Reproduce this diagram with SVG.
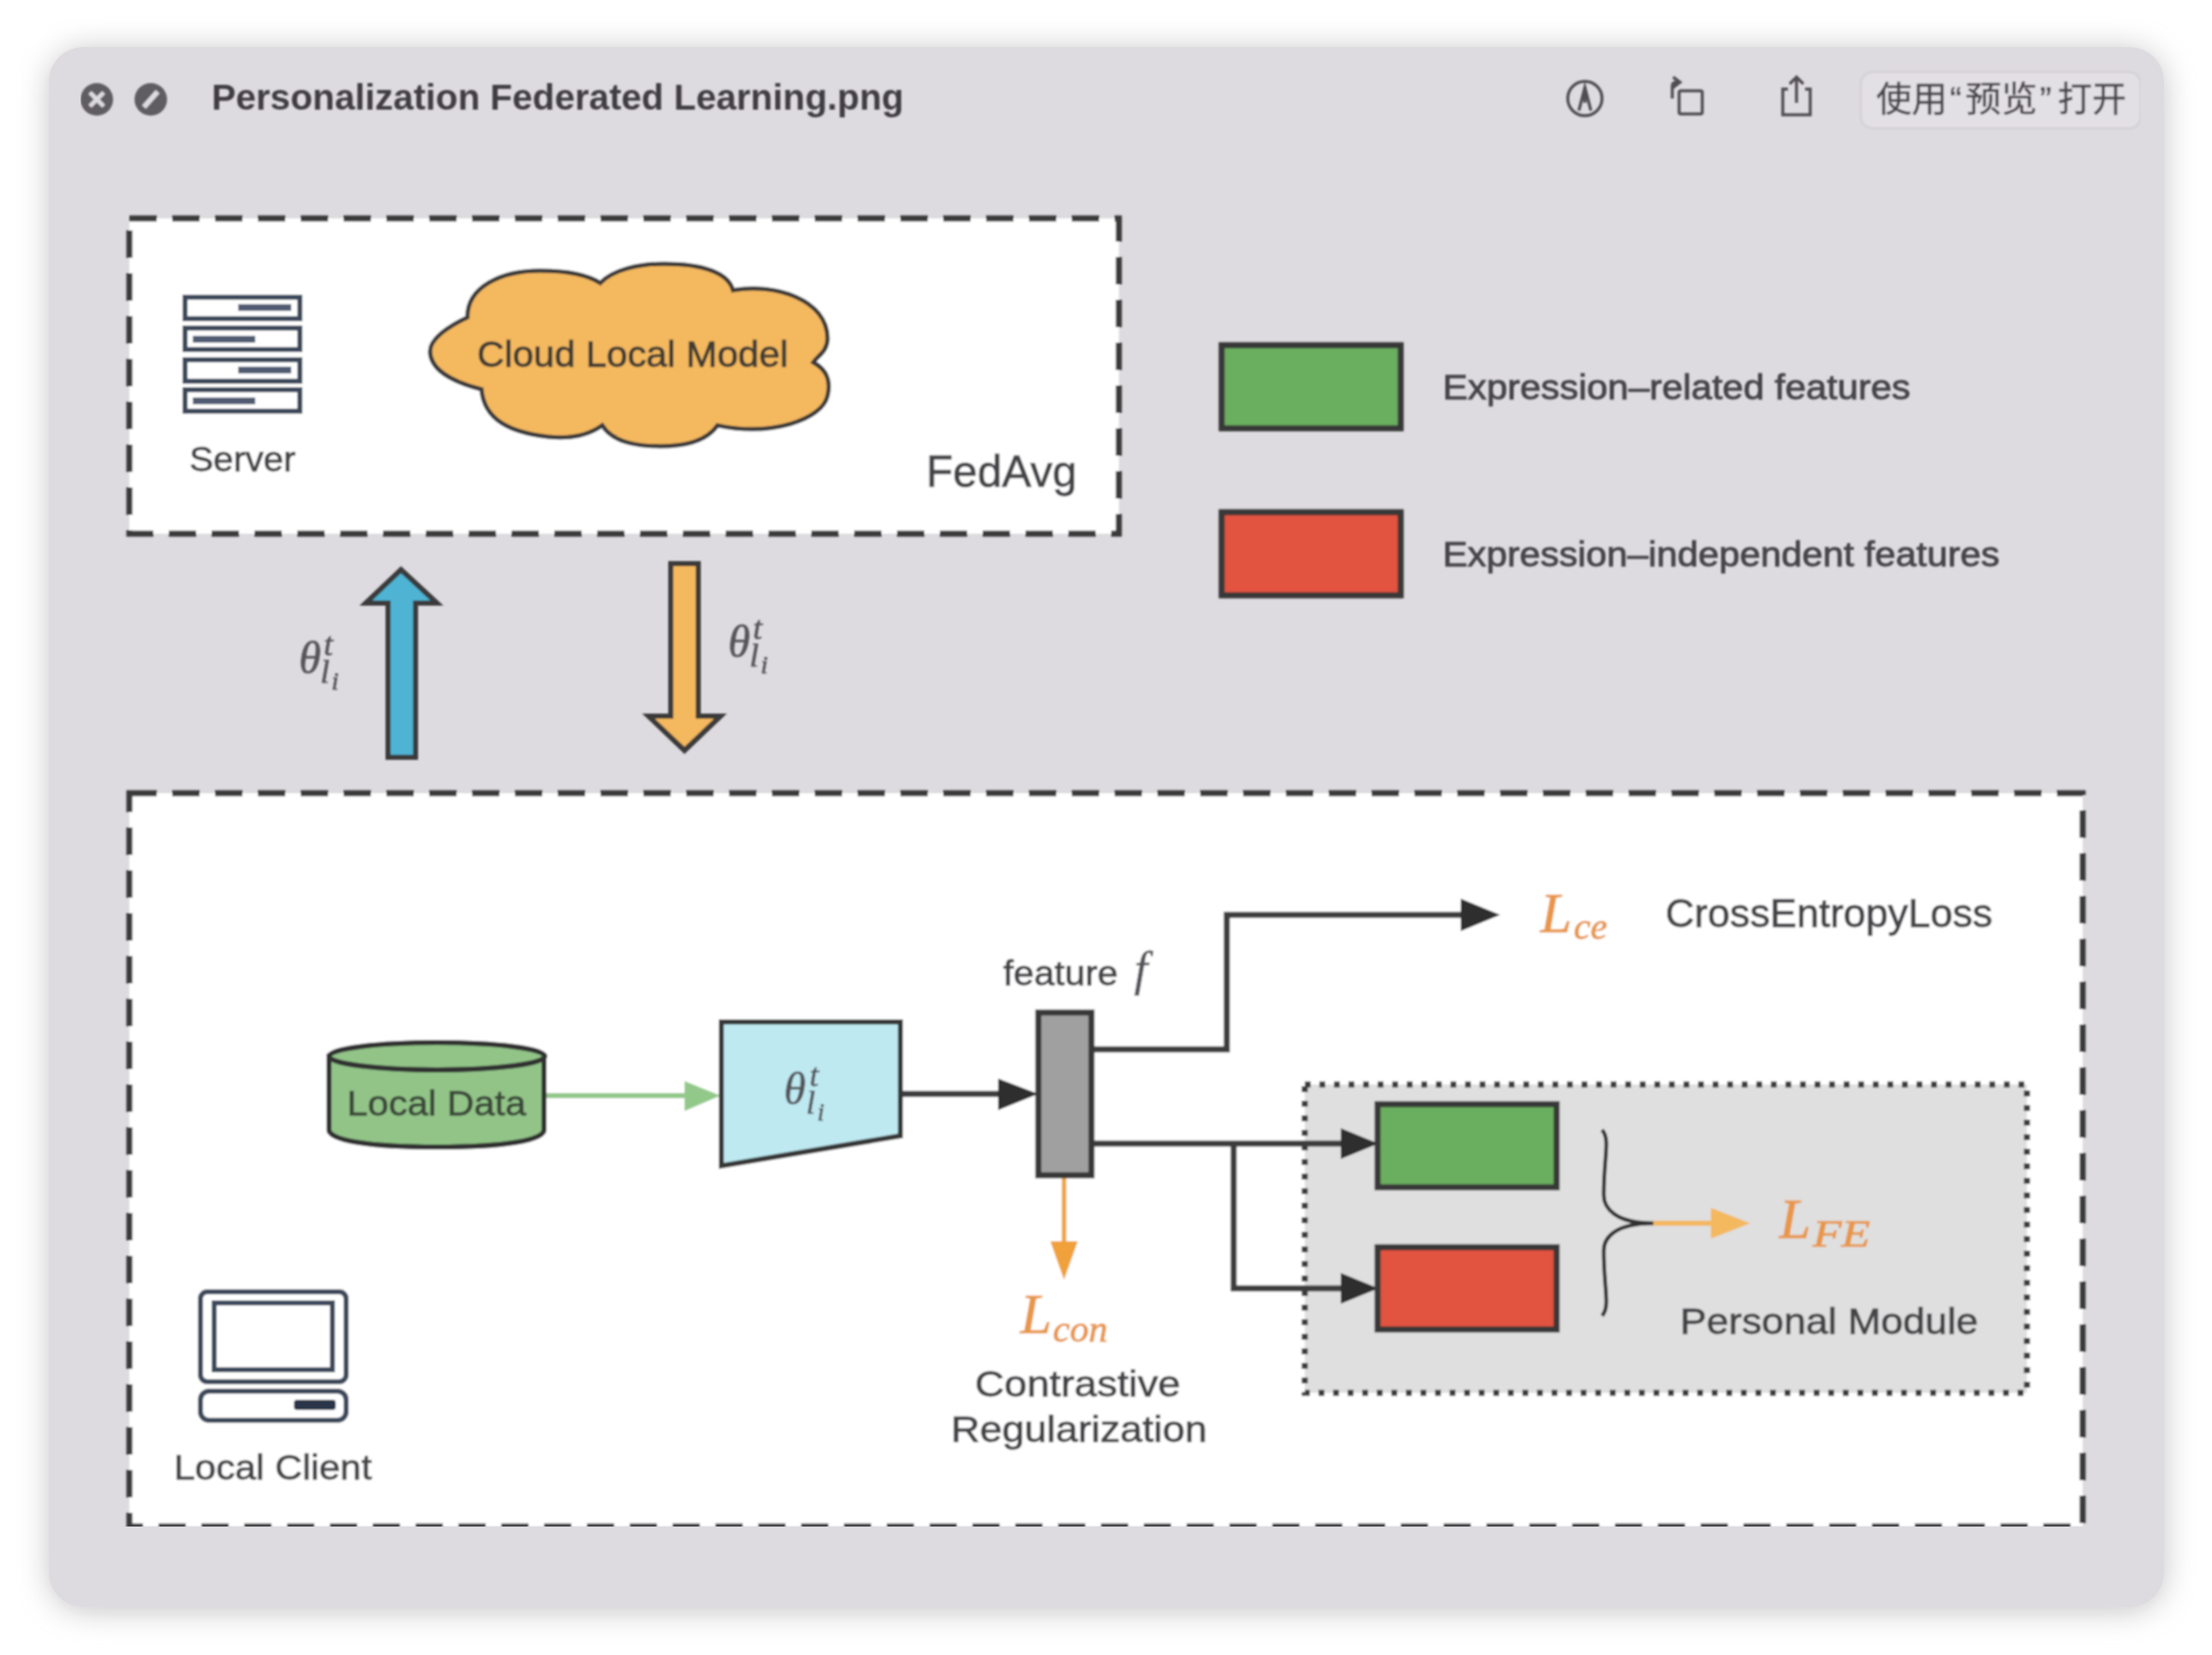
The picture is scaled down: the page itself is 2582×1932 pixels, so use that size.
<svg xmlns="http://www.w3.org/2000/svg" width="2582" height="1932" viewBox="0 0 2582 1932">
<style>
text{font-family:"Liberation Sans",Arial,"Noto Sans CJK SC",sans-serif;color:#454548;fill:currentColor;stroke:currentColor;stroke-width:.9}
.m{font-family:"Liberation Serif","Times New Roman",serif;font-style:italic;color:#55555a;stroke-width:.7;font-size:52px}
.s{font-size:38px}
.ss{font-size:30px}
.o{font-family:"Liberation Serif","Times New Roman",serif;font-style:italic;color:#e8964a;stroke-width:.9}
.dash{fill:#fff;stroke:#3a3a3a;stroke-width:7;stroke-dasharray:32 18}
.box{stroke:#383838;stroke-width:7}
.line{fill:none;stroke:#3c3c3c;stroke-width:7}
.ic{fill:#fff;stroke:#3d4a5c;stroke-width:6}
.bar{fill:#33405a}
.tb{fill:none;stroke:#504d52;stroke-width:3.5}
</style>
<defs>
<filter id="sh" x="-10%" y="-10%" width="120%" height="120%"><feGaussianBlur stdDeviation="18"/></filter>
<filter id="soft" x="0" y="0" width="100%" height="100%"><feGaussianBlur stdDeviation="1.1"/></filter>
</defs>
<rect width="2582" height="1932" fill="#fff"/>
<rect x="58" y="58" width="2468" height="1822" rx="42" fill="#8a8a8a" opacity=".5" filter="url(#sh)"/>
<rect id="window" x="57" y="55" width="2469" height="1821" rx="40" fill="#dedbe0"/>
<g filter="url(#soft)">
<g id="titlebar">
<circle cx="113" cy="116" r="19" fill="#5f5b62"/>
<path d="M105,108 L121,124 M121,108 L105,124" stroke="#dedbe0" stroke-width="5" fill="none"/>
<circle cx="176" cy="116" r="19" fill="#5f5b62"/>
<path d="M168,125 L184,107" stroke="#dedbe0" stroke-width="6" fill="none"/>
<text x="247" y="128" font-size="42" font-weight="700" textLength="808" lengthAdjust="spacingAndGlyphs" style="color:#403d43;stroke-width:0">Personalization Federated Learning.png</text>
<circle class="tb" cx="1850" cy="115" r="20"/>
<path class="tb" d="M1843,129 L1850,102 L1857,129 M1850,102 L1850,120"/>
<rect class="tb" x="1960" y="106" width="27" height="27" rx="2"/>
<path class="tb" d="M1952,115 L1952,100 Q1952,96 1958,96 M1953,90 L1961,96 L1953,102"/>
<path class="tb" d="M2087,104 L2081,104 L2081,134 L2113,134 L2113,104 L2107,104 M2097,120 L2097,90 M2089,98 L2097,90 L2105,98"/>
<rect x="2172" y="84" width="327" height="66" rx="14" fill="#e3e0e5" stroke="#d5d2d7" stroke-width="3"/>
<text y="130" font-size="41" style="color:#4a474d;stroke-width:.5;font-family:'Noto Sans CJK SC',sans-serif"><tspan x="2190" textLength="83" lengthAdjust="spacingAndGlyphs">使用</tspan><tspan x="2276" style="font-family:'Liberation Sans',sans-serif">“</tspan><tspan x="2294" textLength="84" lengthAdjust="spacingAndGlyphs">预览</tspan><tspan x="2381" style="font-family:'Liberation Sans',sans-serif">”</tspan><tspan x="2402" textLength="80" lengthAdjust="spacingAndGlyphs">打开</tspan></text>
</g>
<g id="server-box">
<rect class="dash" x="151" y="255" width="1155" height="368"/>
<text x="1081" y="568" font-size="52" textLength="176" lengthAdjust="spacingAndGlyphs">FedAvg</text>
</g>
<g id="server">
<rect class="ic" x="216" y="347" width="134" height="25"/>
<rect class="ic" x="216" y="383" width="134" height="25"/>
<rect class="ic" x="216" y="420" width="134" height="25"/>
<rect class="ic" x="216" y="455" width="134" height="25"/>
<rect class="bar" x="278" y="355" width="62" height="8" opacity=".85"/>
<rect class="bar" x="225" y="392" width="73" height="8" opacity=".85"/>
<rect class="bar" x="278" y="428" width="62" height="8" opacity=".85"/>
<rect class="bar" x="225" y="464" width="73" height="8" opacity=".85"/>
<text x="221" y="550" font-size="41" textLength="124" lengthAdjust="spacingAndGlyphs">Server</text>
</g>
<g id="cloud">
<path d="M545.6,370.4 C545,335 585,316 630,316 C660,316 685,320 700.7,330.4 C715,315 745,308 775,308 C820,308 850,318 855.7,338.8 C905,330 966,350 966,395 C966,410 955,415 949.4,423 C966,432 970,445 966,462 C960,490 900,510 837.5,496.6 C825,515 800,521 771,521 C735,521 712,512 703,496.6 C685,510 660,512 640,510 C595,505 565,490 562,454.5 C525,445 502,430 502,410 C502,395 525,380 545.6,370.4 Z" fill="#f4b85f" stroke="#3a3a3a" stroke-width="5"/>
<text x="557" y="428" font-size="42" textLength="363" lengthAdjust="spacingAndGlyphs" style="color:#403c34">Cloud Local Model</text>
</g>
<g id="legend-green">
<rect class="box" x="1426" y="403" width="209" height="97" fill="#6aae5e"/>
<text x="1684" y="466" font-size="40" textLength="546" lengthAdjust="spacingAndGlyphs">Expression–related features</text>
</g>
<g id="legend-red">
<rect class="box" x="1426" y="598" width="209" height="97" fill="#e2523f"/>
<text x="1684" y="661" font-size="40" textLength="650" lengthAdjust="spacingAndGlyphs">Expression–independent features</text>
</g>
<g id="upload-arrow">
<path d="M468,665 L510,704 L485,704 L485,884 L453,884 L453,704 L427,704 Z" fill="#4fb4d3" stroke="#3a3a3a" stroke-width="6"/>
<text class="m"><tspan x="349" y="785">θ</tspan><tspan class="s" x="378" y="765">t</tspan><tspan class="s" x="374" y="797">l</tspan><tspan class="ss" x="387" y="805">i</tspan></text>
</g>
<g id="download-arrow">
<path d="M799,876 L757,836 L783,836 L783,658 L815,658 L815,836 L841,836 Z" fill="#f4b85f" stroke="#3a3a3a" stroke-width="6"/>
<text class="m"><tspan x="850" y="766">θ</tspan><tspan class="s" x="879" y="746">t</tspan><tspan class="s" x="875" y="778">l</tspan><tspan class="ss" x="888" y="786">i</tspan></text>
</g>
<g id="client-box">
<rect class="dash" x="151" y="926" width="2280" height="856"/>
</g>
<g id="personal-module">
<rect x="1523" y="1266" width="843" height="360" fill="#dfdfdf" stroke="#3a3a3a" stroke-width="7" stroke-dasharray="7 10"/>
<text x="1961" y="1557" font-size="43" textLength="348" lengthAdjust="spacingAndGlyphs">Personal Module</text>
</g>
<g id="local-client">
<rect class="ic" x="234" y="1508" width="170" height="105" rx="8"/>
<rect class="ic" x="250" y="1521" width="138" height="78"/>
<rect class="ic" x="234" y="1624" width="170" height="34" rx="10"/>
<rect x="343" y="1634" width="49" height="12" rx="4" fill="#2c3648"/>
<text x="203" y="1727" font-size="41" textLength="231" lengthAdjust="spacingAndGlyphs">Local Client</text>
</g>
<g id="connectors">
<path d="M636,1279 L800,1279" fill="none" stroke="#92c98b" stroke-width="6"/>
<path d="M799,1262 L841,1279 L799,1297 Z" fill="#92c98b"/>
<path class="line" d="M1051,1277 L1166,1277"/>
<path d="M1165,1259 L1212,1277 L1165,1296 Z" fill="#2f2f2f"/>
<path class="line" d="M1276,1225 L1432,1225 L1432,1068 L1706,1068"/>
<path d="M1705,1049 L1751,1068 L1705,1087 Z" fill="#2f2f2f"/>
<path class="line" d="M1276,1335 L1566,1335"/>
<path d="M1565,1317 L1609,1335 L1565,1353 Z" fill="#2f2f2f"/>
<path class="line" d="M1440,1333 L1440,1504 L1566,1504"/>
<path d="M1565,1486 L1609,1504 L1565,1522 Z" fill="#2f2f2f"/>
<path d="M1242,1374 L1242,1450" fill="none" stroke="#f0a13a" stroke-width="5"/>
<path d="M1226,1449 L1258,1449 L1242,1494 Z" fill="#f0a13a"/>
<path d="M1870,1319 C1880,1330 1872,1350 1872,1395 C1872,1410 1885,1428 1930,1428 C1885,1428 1872,1445 1872,1460 C1872,1505 1880,1525 1870,1536" fill="none" stroke="#333" stroke-width="4.5"/>
<path d="M1930,1428 L1998,1428" fill="none" stroke="#f4b85f" stroke-width="6"/>
<path d="M1997,1410 L2043,1428 L1997,1446 Z" fill="#f4b85f"/>
</g>
<g id="local-data">
<path d="M384,1233 L384,1319 C384,1331 430,1339 510,1339 C590,1339 635,1331 635,1319 L635,1233 Z" fill="#92c488" stroke="#333" stroke-width="6"/>
<ellipse cx="510" cy="1233" rx="126" ry="16" fill="#92c488" stroke="#333" stroke-width="6"/>
<text x="405" y="1302" font-size="41" textLength="209" lengthAdjust="spacingAndGlyphs" style="color:#3c4a3a">Local Data</text>
</g>
<g id="encoder">
<path d="M842,1193 L1051,1193 L1051,1326 L842,1361 Z" fill="#bee9f1" stroke="#383838" stroke-width="6"/>
<text class="m"><tspan x="915" y="1288">θ</tspan><tspan class="s" x="945" y="1268">t</tspan><tspan class="s" x="941" y="1300">l</tspan><tspan class="ss" x="954" y="1308">i</tspan></text>
</g>
<g id="feature">
<rect class="box" x="1212" y="1182" width="62" height="190" fill="#a0a0a0"/>
<text x="1171" y="1150" font-size="40" textLength="134" lengthAdjust="spacingAndGlyphs">feature</text>
<text class="m" x="1324" y="1150" style="font-size:56px">f</text>
</g>
<g id="green-feature"><rect class="box" x="1608" y="1289" width="209" height="97" fill="#6aae5e"/></g>
<g id="red-feature"><rect class="box" x="1608" y="1456" width="209" height="96" fill="#e2523f"/></g>
<g id="l-ce">
<text class="o" font-size="66"><tspan x="1798" y="1088">L</tspan><tspan x="1837" y="1096" font-size="44">ce</tspan></text>
<text x="1944" y="1082" font-size="46" textLength="382" lengthAdjust="spacingAndGlyphs">CrossEntropyLoss</text>
</g>
<g id="l-con">
<text class="o" font-size="66"><tspan x="1191" y="1556">L</tspan><tspan x="1229" y="1566" font-size="44" textLength="64" lengthAdjust="spacingAndGlyphs">con</tspan></text>
<text x="1138" y="1630" font-size="43" textLength="240" lengthAdjust="spacingAndGlyphs">Contrastive</text>
<text x="1110" y="1683" font-size="43" textLength="299" lengthAdjust="spacingAndGlyphs">Regularization</text>
</g>
<g id="l-fe">
<text class="o" font-size="66"><tspan x="2077" y="1445">L</tspan><tspan x="2116" y="1455" font-size="44" textLength="67" lengthAdjust="spacingAndGlyphs">FE</tspan></text>
</g>
</g>
</svg>
